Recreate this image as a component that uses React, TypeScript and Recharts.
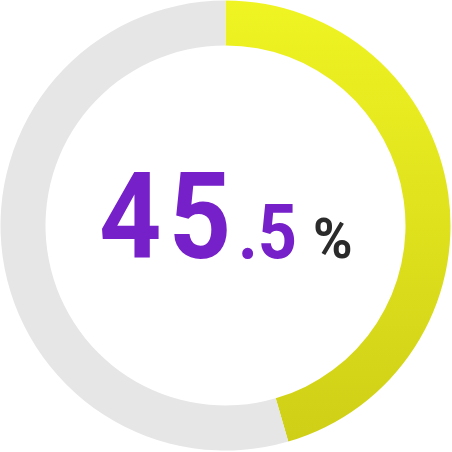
import { PieChart, Pie, Cell, Label } from "recharts";

const segments = ["done", "rest"];
const values = [45.5, 54.5];
const bigPart = "45";
const smallPart = ".5";
const unit = "%";

const data = segments.map((name, i) => ({ name, value: values[i] }));

const FONT = "Roboto, 'DejaVu Sans Condensed', sans-serif";
const SQUEEZE = 0.9;

function CenterText(props: any) {
  const vb = props.viewBox || {};
  const cx = vb.cx ?? 226;
  const cy = vb.cy ?? 226;
  const base = cy + 32;
  const at = (x: number) => `translate(${x},${base}) scale(${SQUEEZE},1)`;
  return (
    <g fontFamily={FONT} fontWeight="bold">
      <text transform={at(cx - 127)} fill="#7620c9" fontSize={121} letterSpacing={8}>
        {bigPart}
      </text>
      <text transform={at(cx + 12)} fill="#7620c9" fontSize={76}>
        {smallPart}
      </text>
      <text transform={at(cx + 87)} fill="#2b2b2b" fontSize={55} textLength={44} lengthAdjust="spacingAndGlyphs">
        {unit}
      </text>
    </g>
  );
}

export default function App() {
  return (
    <div style={{ position: "fixed", left: 0, top: 0, width: 452, height: 452, background: "#fff" }}>
      <PieChart width={452} height={452} margin={{ top: 0, right: 0, bottom: 0, left: 0 }}>
        <defs>
          <linearGradient id="doneGrad" x1="0" y1="0" x2="0" y2="1">
            <stop offset="0%" stopColor="#eff422" />
            <stop offset="100%" stopColor="#cfcf17" />
          </linearGradient>
        </defs>
        <Pie
          data={data}
          dataKey="value"
          nameKey="name"
          cx={225.5}
          cy={225.5}
          innerRadius={180}
          outerRadius={225}
          startAngle={90}
          endAngle={-270}
          stroke="none"
          isAnimationActive={false}
        >
          <Cell fill="url(#doneGrad)" />
          <Cell fill="#e6e6e6" />
          <Label position="center" content={<CenterText />} />
        </Pie>
      </PieChart>
    </div>
  );
}
